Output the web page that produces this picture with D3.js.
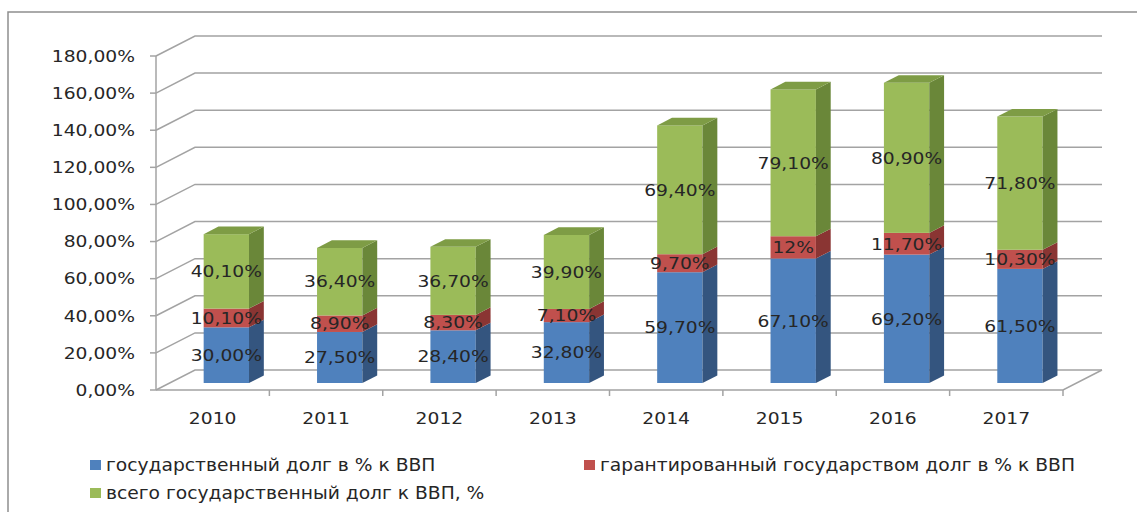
<!DOCTYPE html>
<html>
<head>
<meta charset="utf-8">
<script src="https://cdn.jsdelivr.net/npm/d3@7"></script>
<style>
  body { margin: 0; background: #fff; }
  svg text { font-family: "DejaVu Sans", Verdana, sans-serif; fill: #262626; }
</style>
</head>
<body>
<div id="chart"></div>
<script>
const years = ["2010", "2011", "2012", "2013", "2014", "2015", "2016", "2017"];
const govDebt = [30.0, 27.5, 28.4, 32.8, 59.7, 67.1, 69.2, 61.5];
const guarDebt = [10.1, 8.9, 8.3, 7.1, 9.7, 12, 11.7, 10.3];
const totalDebt = [40.1, 36.4, 36.7, 39.9, 69.4, 79.1, 80.9, 71.8];
const yTicks = [0, 20, 40, 60, 80, 100, 120, 140, 160, 180];
const seriesNames = [
    "государственный долг в % к ВВП",
    "гарантированный государством долг в % к ВВП",
    "всего государственный долг к ВВП, %"
];

const width = 1137, height = 512;
const colors = [
    { front: "#4f81bd", side: "#34557f", top: "#41699c" },
    { front: "#c0504d", side: "#8a3533", top: "#9e403d" },
    { front: "#9bbb59", side: "#6a8739", top: "#7e9c45" }
];
// depth of the 3d box (back wall offset)
const DX = 39, DY = -20;
const stretch = 1.17;

const svg = d3.select("#chart").append("svg").attr("width", width).attr("height", height);

// outer frame
svg.append("path").attr("d", "M8,512V12H1137").attr("fill", "none")
    .attr("stroke", "#8e8e8e").attr("stroke-width", 1.5);

const y = d3.scaleLinear().domain([0, 180]).range([390, 56]);
const x = d3.scaleBand().domain(years).range([156, 1063]).paddingInner(0.6).paddingOuter(0.3);
const xEdge = d3.scaleLinear().domain([0, years.length]).range([156, 1063]);

const grid = svg.append("g").attr("stroke", "#a3a3a3").attr("stroke-width", 1.5).attr("fill", "none");
// back wall gridlines + side wall lines
yTicks.forEach(t => {
    grid.append("path").attr("d", `M156,${y(t)}L${156 + DX},${y(t) + DY}H${1063 + DX}`);
    grid.append("line").attr("x1", 150).attr("x2", 156).attr("y1", y(t)).attr("y2", y(t));
});
// floor
grid.append("path").attr("d", `M156,${y(0)}H1063L${1063 + DX},${y(0) + DY}`);
grid.append("line").attr("x1", 156).attr("x2", 156).attr("y1", y(180)).attr("y2", y(0));
d3.range(1, years.length + 1).forEach(i => {
    grid.append("line").attr("x1", xEdge(i)).attr("x2", xEdge(i)).attr("y1", y(0)).attr("y2", y(0) + 6);
});

// y labels
svg.append("g").selectAll("text").data(yTicks).join("text")
    .attr("transform", d => `translate(135,${y(d)}) scale(${stretch},1)`)
    .attr("text-anchor", "end").attr("dy", "0.36em").attr("font-size", 16)
    .text(d => d3.format(".2f")(d).replace(".", ",") + "%");

// x labels
svg.append("g").selectAll("text").data(years).join("text")
    .attr("transform", d => `translate(${x(d) + x.bandwidth() / 2},418) scale(${stretch},1)`)
    .attr("text-anchor", "middle").attr("dy", "0.36em").attr("font-size", 16)
    .text(d => d);

// bars
const f0 = 0.35, f1 = 0.73; // bar front / back depth fraction
const fx = DX * f0, fy = DY * f0;
const sx = DX * (f1 - f0), sy = DY * (f1 - f0);
const series = [govDebt, guarDebt, totalDebt];
const fmt = v => (v === 12 ? "12" : d3.format(".2f")(v).replace(".", ",")) + "%";

const bars = svg.append("g");
const labels = svg.append("g");
years.forEach((yr, i) => {
    let base = 0;
    const x0 = x(yr) + fx, x1 = x0 + x.bandwidth();
    series.forEach((s, k) => {
        const v = s[i];
        const yb = y(base) + fy, yt = y(base + v) + fy;
        const c = colors[k];
        bars.append("rect").attr("x", x0).attr("y", yt).attr("width", x1 - x0).attr("height", yb - yt)
            .attr("fill", c.front);
        bars.append("path").attr("d", `M${x1},${yb}L${x1 + sx},${yb + sy}L${x1 + sx},${yt + sy}L${x1},${yt}Z`)
            .attr("fill", c.side);
        if (k === series.length - 1) {
            bars.append("path").attr("d", `M${x0},${yt}L${x0 + sx},${yt + sy}L${x1 + sx},${yt + sy}L${x1},${yt}Z`)
                .attr("fill", c.top);
        }
        labels.append("text")
            .attr("transform", `translate(${(x0 + x1) / 2},${(yb + yt) / 2}) scale(${stretch},1)`)
            .attr("text-anchor", "middle").attr("dy", "0.36em").attr("font-size", 16)
            .text(fmt(v));
        base += v;
    });
});

// legend
const legendPos = [[90, 465], [584, 465], [90, 493]];
const legend = svg.append("g");
seriesNames.forEach((name, k) => {
    const [lx, ly] = legendPos[k];
    legend.append("rect").attr("x", lx).attr("y", ly - 5).attr("width", 11).attr("height", 10)
        .attr("fill", colors[k].front);
    legend.append("text").attr("transform", `translate(${lx + 16},${ly}) scale(1.1,1)`).attr("dy", "0.36em")
        .attr("font-size", 17).text(name);
});
</script>
</body>
</html>
